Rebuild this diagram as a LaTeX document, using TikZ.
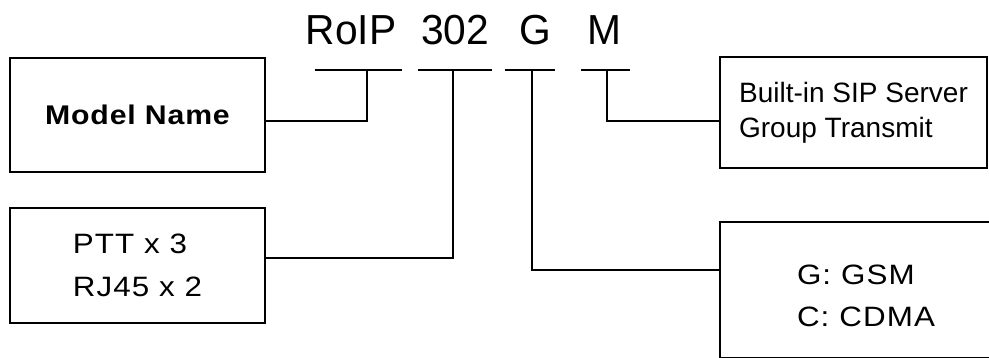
\documentclass[tikz,border=0pt]{standalone}
\usepackage{fontspec}
\setmainfont{Liberation Sans}
\newfontfamily\spacedfont[FakeStretch=1.12,LetterSpace=4]{Liberation Sans}
\newfontfamily\spacedboldfont[FakeStretch=1.12,LetterSpace=3]{Liberation Sans Bold}
\newfontfamily\titlefont[FakeStretch=0.97]{Liberation Sans}
\begin{document}
\begin{tikzpicture}[x=1pt,y=-1pt,
  boxstyle/.style={draw,line width=2pt,rectangle,inner sep=0pt},
  wire/.style={line width=2pt},
  titlestyle/.style={font=\titlefont\fontsize{42}{42}\selectfont,anchor=base,inner sep=0pt},
  bar/.style={line width=2pt}]
\useasboundingbox (0,0) rectangle (989,358);
% boxes
\node[boxstyle,minimum width=255pt,minimum height=114pt,font=\spacedboldfont\fontsize{27}{30}\selectfont] (mn) at (137.5,115) {Model Name};
\node[boxstyle,minimum width=255pt,minimum height=115pt,align=left,font=\spacedfont\fontsize{28}{43}\selectfont] (ptt) at (137.5,265.5) {PTT x 3\\RJ45 x 2};
\node[boxstyle,minimum width=267pt,minimum height=111pt,align=left,font=\fontsize{28}{35}\selectfont] (sip) at (853.5,112.5) {Built-in SIP Server\\Group Transmit};
\node[boxstyle,minimum width=290pt,minimum height=136pt] (gsm) at (865,290) {};
\node[align=left,inner sep=0pt,font=\spacedfont\fontsize{28}{42}\selectfont] (gsmtxt) at (866,296) {G: GSM\\C: CDMA};
% title
\node[titlestyle] (t1) at (351,45) {RoIP};
\node[titlestyle] (t2) at (455,45) {302};
\node[titlestyle] (t3) at (535,45) {G};
\node[titlestyle] (t4) at (604,45) {M};
% bars
\coordinate (b1l) at (315,70); \coordinate (b1r) at (402,70); \coordinate (b1) at (367,70);
\coordinate (b2l) at (418,70); \coordinate (b2r) at (492,70); \coordinate (b2) at (453,70);
\coordinate (b3l) at (505,70); \coordinate (b3r) at (555,70); \coordinate (b3) at (532,70);
\coordinate (b4l) at (581,70); \coordinate (b4r) at (630,70); \coordinate (b4) at (607,70);
\draw[bar] (b1l) -- (b1r);
\draw[bar] (b2l) -- (b2r);
\draw[bar] (b3l) -- (b3r);
\draw[bar] (b4l) -- (b4r);
% connectors
\draw[wire] (b1) |- ([yshift=-6pt]mn.east);
\draw[wire] (b2) |- ([yshift=7.5pt]ptt.east);
\draw[wire] (b3) |- ([yshift=20pt]gsm.west);
\draw[wire] (b4) |- ([yshift=-8.5pt]sip.west);
\end{tikzpicture}
\end{document}
